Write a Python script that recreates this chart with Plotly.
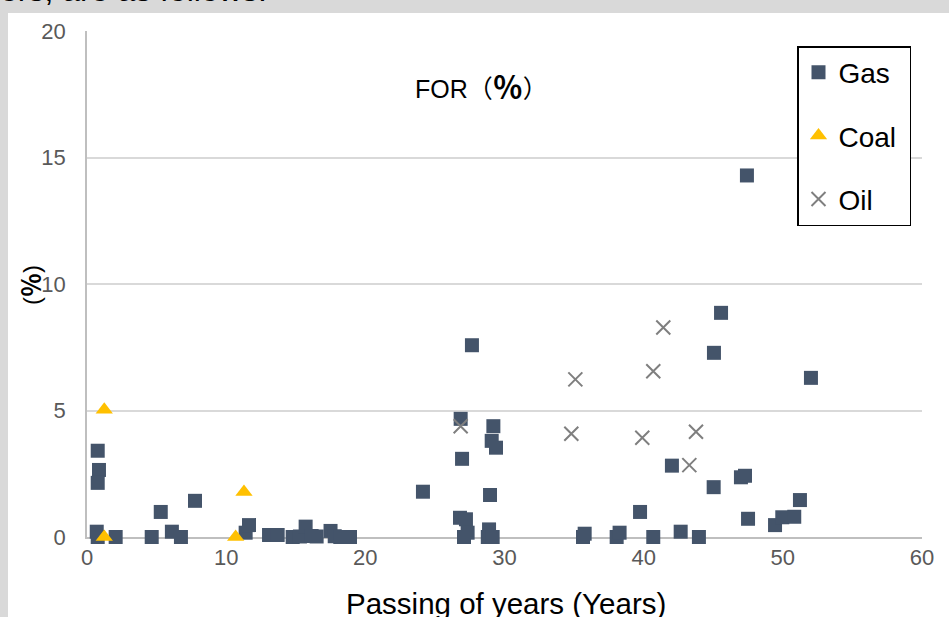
import plotly.graph_objects as go

# ---- data ----
gas_x = [0.77, 0.86, 0.77, 0.70, 0.77, 2.06, 4.65, 5.30, 6.10, 6.75, 7.76,
         11.40, 11.64, 13.08, 13.70, 14.78, 15.30, 15.71, 16.14, 16.50, 17.50, 17.80, 18.20, 18.90,
         24.14, 26.85, 26.95, 27.66, 26.80, 27.23, 27.35, 27.09, 29.20, 29.08, 29.39, 28.96, 28.89, 28.80, 29.15,
         35.64, 35.76, 38.06, 38.27, 39.74, 40.69, 42.03, 42.66, 43.97, 45.03, 45.05, 45.56,
         46.99, 47.28, 47.42, 47.50, 49.44, 49.96, 50.82, 51.23, 52.02]
gas_y = [3.41, 2.65, 2.14, 0.21, 0.00, 0.00, 0.00, 0.99, 0.21, 0.00, 1.43,
         0.17, 0.47, 0.08, 0.08, 0.00, 0.02, 0.41, 0.04, 0.02, 0.24, 0.03, 0.00, 0.00,
         1.79, 4.67, 3.09, 7.58, 0.76, 0.70, 0.17, 0.00, 4.38, 3.80, 3.53, 1.66, 0.30, 0.00, 0.00,
         0.00, 0.13, 0.00, 0.17, 0.99, 0.00, 2.82, 0.21, 0.00, 1.97, 7.28, 8.86,
         2.36, 2.42, 14.29, 0.72, 0.47, 0.78, 0.80, 1.46, 6.29]

coal_x = [1.24, 1.24, 11.28, 10.68]
coal_y = [5.03, 0.00, 1.78, 0.00]

oil_x = [26.85, 34.80, 35.09, 39.90, 40.69, 41.41, 43.28, 43.76]
oil_y = [4.38, 4.08, 6.23, 3.92, 6.55, 8.28, 2.84, 4.16]

x_ticks = [0, 10, 20, 30, 40, 50, 60]
y_ticks = [0, 5, 10, 15, 20]

FONT = "Liberation Sans, Arial, Noto Sans CJK JP, sans-serif"

fig = go.Figure()
fig.add_trace(go.Scatter(
    x=gas_x, y=gas_y, mode="markers", name="Gas", legendgroup="g1",
    marker=dict(symbol="square", size=14, color="#44546A"), cliponaxis=False))
fig.add_trace(go.Scatter(
    x=coal_x, y=coal_y, mode="markers", name="Coal\u00a0", legendgroup="g2",
    marker=dict(symbol="triangle-up", size=15, color="#FFC000"), cliponaxis=False))
fig.add_trace(go.Scatter(
    x=oil_x, y=oil_y, mode="markers", name="Oil", legendgroup="g3",
    marker=dict(symbol="x-thin", size=14, color="#7F7F7F",
                line=dict(color="#7F7F7F", width=2)), cliponaxis=False))

W, H = 949, 617
L, R, T, B = 87, 27, 31, 80
pw, ph = W - L - R, H - T - B

def px_x(p):
    return (p - L) / pw

def px_y(p):
    return (H - B - p) / ph

fig.update_layout(
    width=W, height=H,
    margin=dict(l=L, r=R, t=T, b=B, pad=0),
    paper_bgcolor="#d9d9d9",
    plot_bgcolor="white",
    font=dict(family=FONT, color="#595959"),
    showlegend=True,
    legend=dict(
        x=px_x(797), y=px_y(46), xanchor="left", yanchor="top",
        bgcolor="white", bordercolor="black", borderwidth=1.5,
        font=dict(size=28, color="black", family=FONT),
        tracegroupgap=24, traceorder="grouped",
    ),
    xaxis=dict(
        range=[0, 60], tickvals=x_ticks, showgrid=False,
        showline=True, linecolor="#bfbfbf", linewidth=1.5,
        zeroline=False, ticks="", tickfont=dict(size=22, color="#595959"),
        ticklabelstandoff=0, layer="below traces",
    ),
    yaxis=dict(
        range=[0, 20], tickvals=y_ticks, showgrid=True,
        gridcolor="#d9d9d9", gridwidth=1.5,
        showline=True, linecolor="#bfbfbf", linewidth=1.5,
        zeroline=False, ticks="", tickfont=dict(size=22, color="#595959"),
        ticklabelstandoff=15, layer="below traces",
    ),
    shapes=[dict(type="rect", xref="paper", yref="paper",
                 x0=px_x(8), x1=px_x(949), y0=px_y(13), y1=px_y(620),
                 fillcolor="white", line=dict(width=0), layer="below")],
    annotations=[
        dict(text="FOR（<span style='font-size:30px'><b>％</b></span>）",
             xref="paper", yref="paper", x=px_x(481), y=px_y(87),
             xanchor="center", yanchor="middle",
             showarrow=False, font=dict(size=25, color="black", family=FONT)),
        dict(text="(<b>％</b>)", xref="paper", yref="paper", x=px_x(31), y=px_y(285),
             xanchor="center", yanchor="middle",
             textangle=-90, showarrow=False,
             font=dict(size=24, color="black", family=FONT)),
        dict(text="Passing of years (Years)", xref="paper", yref="paper",
             x=px_x(506), y=px_y(603), xanchor="center", yanchor="middle",
             showarrow=False,
             font=dict(size=29.5, color="black", family=FONT)),
        dict(text="ers, are as follows:", xref="paper", yref="paper",
             x=px_x(-2), y=px_y(10), xanchor="left", yanchor="bottom", showarrow=False,
             font=dict(size=32, color="black", family=FONT)),
    ],
)

fig.write_html("out.html", config={"displayModeBar": False},
               post_script="document.body.style.margin='0px';")
